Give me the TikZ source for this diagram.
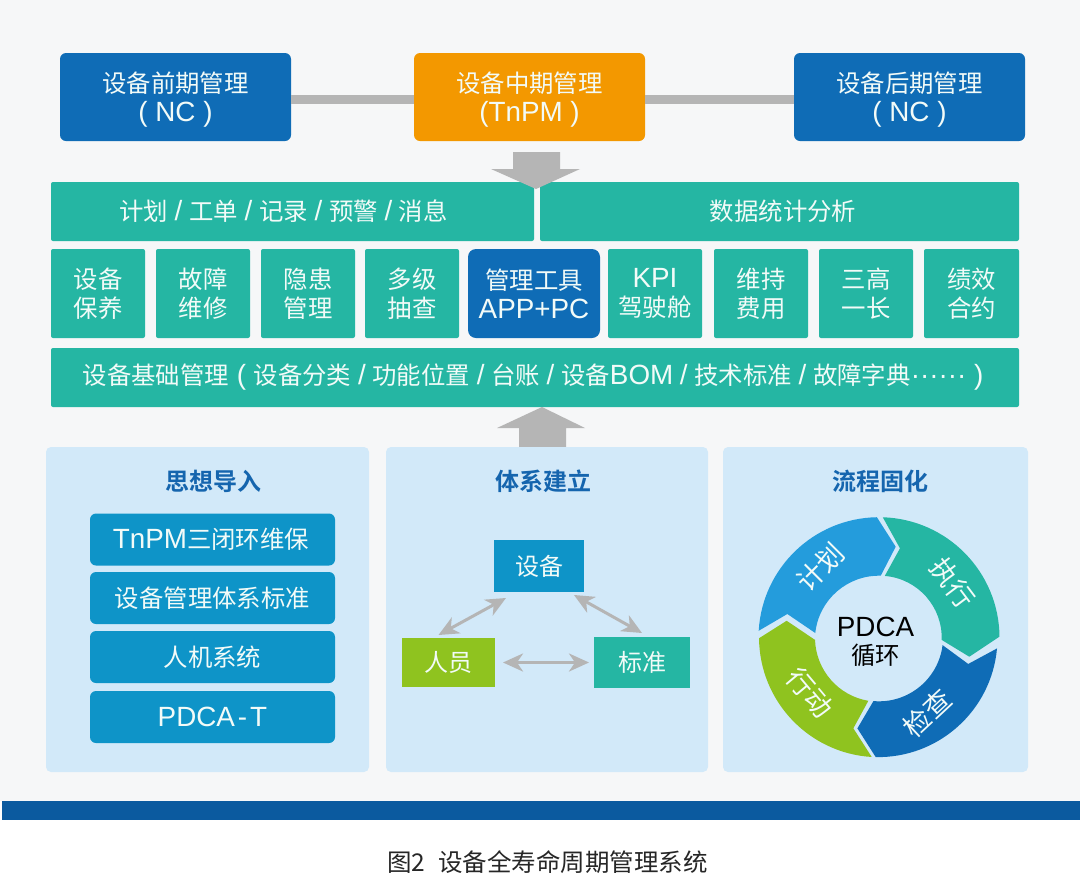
\documentclass[tikz,border=0pt]{standalone}
\usepackage{fontspec}
\setmainfont{Noto Sans CJK SC}[BoldFont=* Bold]
\newfontfamily\lat{Liberation Sans}[Scale=1.14]
\newcommand{\sep}{{\lat\spaceskip=6.7pt\relax\ /\ }}
\newcommand{\lowerline}{\rule{0pt}{25.5pt}}
\usetikzlibrary{calc,arrows.meta}
\definecolor{bgc}{HTML}{F6F7F8}
\definecolor{dkblue}{HTML}{0F6CB6}
\definecolor{orangec}{HTML}{F39800}
\definecolor{tealc}{HTML}{25B6A3}
\definecolor{panelc}{HTML}{D2E9F9}
\definecolor{listc}{HTML}{0E94C8}
\definecolor{greenc}{HTML}{8FC31F}
\definecolor{graybar}{HTML}{B5B5B5}
\definecolor{skyc}{HTML}{249CDC}
\definecolor{bandc}{HTML}{0B5A9F}
\definecolor{titlec}{HTML}{1565AE}
\definecolor{softw}{HTML}{F2FBF8}
\tikzset{
  base/.style={inner sep=0pt,outer sep=0pt,align=center,text=softw,font=\fontsize{24.4}{29}\selectfont},
  topbox/.style={base,rounded corners=6pt,minimum width=231pt,minimum height=88pt,fill=dkblue},
  tealbox/.style={base,rounded corners=2pt,fill=tealc},
  cellbox/.style={tealbox,minimum width=94pt,minimum height=89pt},
  panelbox/.style={base,rounded corners=5pt,fill=panelc,minimum height=325pt},
  listbox/.style={base,rounded corners=6pt,fill=listc,minimum width=245pt,minimum height=52pt},
  paneltitle/.style={inner sep=0pt,text=titlec,font=\fontsize{24}{28}\selectfont\bfseries},
  triobox/.style={base,font=\fontsize{24}{28}\selectfont},
  connbar/.style={draw=graybar,line width=9pt},
  bigarrow/.style={fill=graybar,draw=none},
  dbl/.style={draw=graybar,line width=3pt,
    {Stealth[length=20pt,width=18pt,inset=6pt]}-{Stealth[length=20pt,width=18pt,inset=6pt]}},
  ringtext/.style={inner sep=0pt,text=softw,font=\fontsize{27}{30}\selectfont}
}
\begin{document}
\begin{tikzpicture}[x=1pt,y=-1pt]
\useasboundingbox (0,0) rectangle (1080,876);
\fill[white] (0,0) rectangle (1080,876);
\fill[bgc] (0,0) rectangle (1080,801);
\fill[bandc] (2,801) rectangle (1080,820);
% top row
\node[topbox] (pre) at (175.5,97) {\lowerline 设备前期管理\\{\lat( NC )}};
\node[topbox,fill=orangec] (mid) at (529.5,97) {\lowerline 设备中期管理\\{\lat(TnPM )}};
\node[topbox] (post) at (909.5,97) {\lowerline 设备后期管理\\{\lat( NC )}};
\draw[connbar] ($(pre.east)+(0,2)$) -- ($(mid.west)+(0,2)$);
\draw[connbar] ($(mid.east)+(0,2)$) -- ($(post.west)+(0,2)$);
% middle rows
\node[tealbox,minimum width=483pt,minimum height=59pt] (plan) at (292.5,211.5) {\hspace{-18pt}计划\sep 工单\sep 记录\sep 预警\sep 消息};
\node[tealbox,minimum width=479pt,minimum height=59pt] (stat) at (779.5,211.5) {\hspace{7pt}数据统计分析};
\node[cellbox] (c1) at (98,293.5) {设备\\保养};
\node[cellbox] (c2) at (203,293.5) {故障\\维修};
\node[cellbox] (c3) at (308,293.5) {隐患\\管理};
\node[cellbox] (c4) at (412,293.5) {多级\\抽查};
\node[base,rounded corners=8pt,fill=dkblue,minimum width=132pt,minimum height=89pt] (c5) at (534,293.5) {管理工具\\{\lat APP+PC}};
\node[cellbox] (c6) at (655,293.5) {{\lat KPI}\\驾驶舱};
\node[cellbox] (c7) at (761,293.5) {维持\\费用};
\node[cellbox] (c8) at (866,293.5) {三高\\一长};
\node[cellbox,minimum width=95pt] (c9) at (971.5,293.5) {绩效\\合约};
\node[tealbox,minimum width=968pt,minimum height=59pt] (basebar) at (535,377.5) {\hspace{-4pt}设备基础管理{\lat\ (\ }设备分类\sep 功能位置\sep 台账\sep 设备{\lat BOM}\sep 技术标准\sep 故障字典{\lat ······\ )}};
% big arrows
\fill[bigarrow] (513,152) -- (560,152) -- (560,169) -- (580,169) -- (536,189) -- (491,169) -- (513,169) -- cycle;
\fill[bigarrow] (519,447) -- (566,447) -- (566,428) -- (585,428) -- (542,407) -- (497,428) -- (519,428) -- cycle;
% panels
\node[panelbox,minimum width=323pt] (p1) at (207.5,609.5) {};
\node[panelbox,minimum width=322pt] (p2) at (547,609.5) {};
\node[panelbox,minimum width=305pt] (p3) at (875.5,609.5) {};
\node[paneltitle] (t1) at (213,481) {思想导入};
\node[paneltitle] (t2) at (543,481) {体系建立};
\node[paneltitle] (t3) at (880,481) {流程固化};
\node[listbox] (l1) at (212.5,539.5) {\hspace{-3pt}{\lat TnPM}三闭环维保};
\node[listbox] (l2) at (212.5,598) {设备管理体系标准};
\node[listbox] (l3) at (212.5,657) {人机系统};
\node[listbox] (l4) at (212.5,717) {{\lat PDCA\kern3pt-\kern3pt T}};
% triangle
\node[triobox,fill=listc,minimum width=90pt,minimum height=52pt] (sb) at (539,566) {设备};
\node[triobox,fill=greenc,minimum width=93pt,minimum height=49pt] (ry) at (448.5,662.5) {人员};
\node[triobox,fill=tealc,minimum width=96pt,minimum height=51pt] (bz) at (642,662.5) {标准};
\draw[dbl] ($(sb.south west)+(12,6)$) -- ($(ry.north)+(-10,-3)$);
\draw[dbl] ($(sb.south east)+(-10,3)$) -- ($(bz.north)+(0,-4)$);
\draw[dbl] ($(ry.east)+(8,0)$) -- ($(bz.west)+(-5,0)$);
% ring
\begin{scope}[shift={(879,637.7)},x=1pt,y=1pt]
\fill[skyc] (176.7:120.5) arc[start angle=176.7,end angle=91,radius=120.5] -- (79.6:92.5) -- (88.4:62) arc[start angle=88.4,end angle=174,radius=64] -- (165.5:94.7) -- cycle;
\fill[tealc] (88.2:120.5) arc[start angle=88.2,end angle=0.5,radius=120.5] -- (-11.9:92.3) -- (-2:62.7) arc[start angle=-2,end angle=85.3,radius=62] -- (76.8:91.8) -- cycle;
\fill[dkblue] (-5.2:118.5) arc[start angle=-5.2,end angle=-91.1,radius=119.5] -- (-103.4:93.2) -- (-95:63.6) arc[start angle=-95,end angle=-7,radius=64] -- (-16.4:93) -- cycle;
\fill[greenc] (-93.5:119.5) arc[start angle=-93.5,end angle=-179.5,radius=120] -- (169.6:93.9) -- (182:64) arc[start angle=182,end angle=260.4,radius=64] -- (254.2:94.2) -- cycle;
\end{scope}
\node[ringtext,rotate=45] (r1) at (820,567) {计划};
\node[ringtext,rotate=-53] (r2) at (953,583) {执行};
\node[ringtext,rotate=43] (r3) at (927,713) {检查};
\node[ringtext,rotate=-50] (r4) at (810,693) {行动};
\node[inner sep=0pt,align=center,text=black,font=\fontsize{24.4}{28}\selectfont] (pd) at (875.5,642) {{\lat PDCA}\\循环};
\node[inner sep=0pt,text=black!85,font=\fontsize{24.5}{29}\selectfont] (cap) at (547.5,862) {图2\hspace{13pt}设备全寿命周期管理系统};
\end{tikzpicture}
\end{document}
